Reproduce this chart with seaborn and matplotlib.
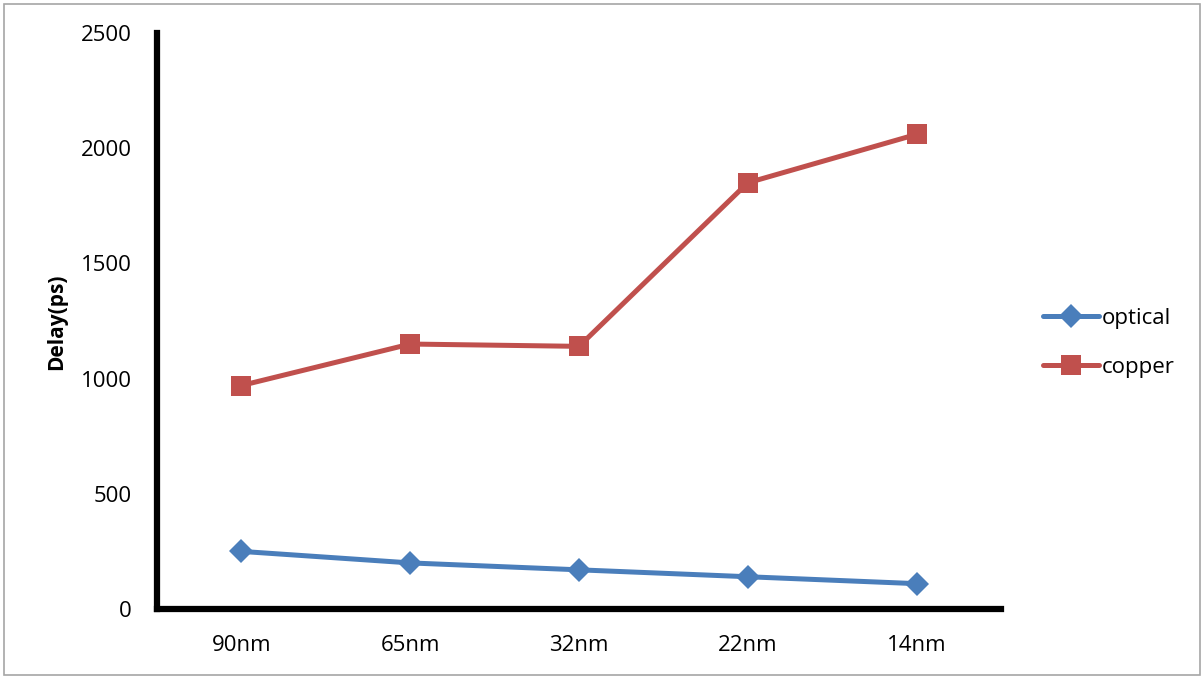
import matplotlib
matplotlib.use("Agg")
import matplotlib.pyplot as plt
import pandas as pd
import seaborn as sns

# Interconnect delay per technology node
nodes = ["90nm", "65nm", "32nm", "22nm", "14nm"]
optical = [250, 200, 170, 140, 110]
copper = [970, 1150, 1140, 1850, 2060]
y_ticks = [0, 500, 1000, 1500, 2000, 2500]

df = pd.DataFrame({
    "node": nodes * 2,
    "delay": optical + copper,
    "series": ["optical"] * len(nodes) + ["copper"] * len(nodes),
})

sns.set_style("white")
plt.rcParams["font.family"] = ["Open Sans", "DejaVu Sans"]

W, H = 1203, 677
fig = plt.figure(figsize=(W / 100, H / 100), dpi=100)
ax = fig.add_axes([157 / W, 1 - 609 / H, (1001 - 157) / W, (609 - 33) / H])

palette = {"optical": "#4A7EBB", "copper": "#C0504D"}
sns.lineplot(
    data=df, x="node", y="delay", hue="series", style="series",
    markers={"optical": "D", "copper": "s"}, dashes=False,
    palette=palette, linewidth=3.6, markeredgewidth=0, ax=ax, sort=False,
)
for line in ax.get_lines():
    if line.get_marker() == "D":
        line.set_markersize(12)
    elif line.get_marker() == "s":
        line.set_markersize(14.5)

ax.set_xlim(-0.5, len(nodes) - 0.5)
ax.set_ylim(0, 2500)
ax.set_yticks(y_ticks)
ax.set_yticklabels([str(t) for t in y_ticks])
ax.tick_params(axis="both", length=0, labelsize=16, labelcolor="black")
ax.tick_params(axis="y", pad=18)
ax.tick_params(axis="x", pad=19)
ax.set_xlabel("")
ax.set_ylabel("Delay(ps)", fontsize=15, fontweight="bold", color="black")
ax.yaxis.set_label_coords((67 - 157) / 844, (609 - 322) / 576)

for side in ["top", "right"]:
    ax.spines[side].set_visible(False)
for side in ["left", "bottom"]:
    ax.spines[side].set_linewidth(4.5)
    ax.spines[side].set_color("black")

leg = ax.legend(
    loc="center left", bbox_to_anchor=(1043 / W, 1 - 343 / H),
    bbox_transform=fig.transFigure, frameon=False, borderpad=0, borderaxespad=0,
    fontsize=16, handlelength=2.5, handletextpad=0.15, labelspacing=1.25,
)
for t in leg.get_texts():
    t.set_color("black")

# Outer chart border
fig.patches.append(plt.Rectangle((4 / W, 2 / H), 1196 / W, 671 / H,
                                 transform=fig.transFigure, fill=False,
                                 edgecolor="#A6A6A6", linewidth=1.2))

fig.savefig("out.png", dpi=100)
